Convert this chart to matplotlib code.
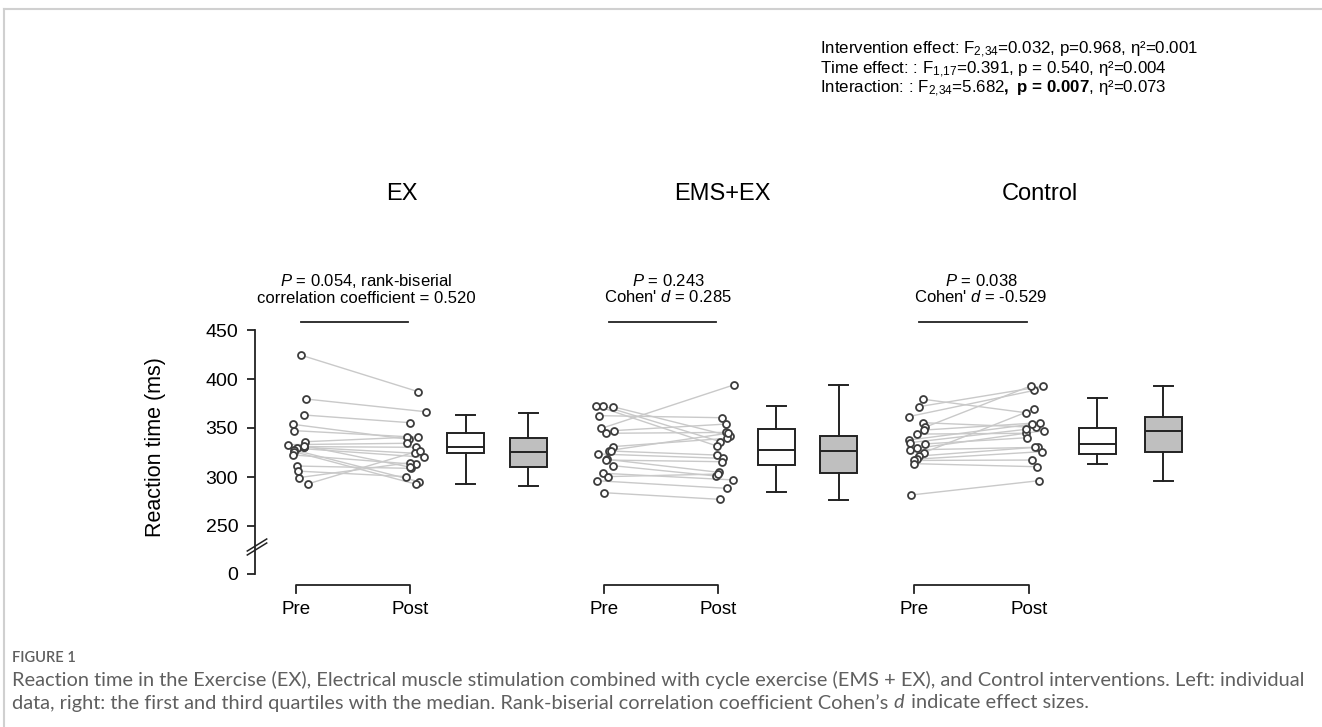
import numpy as np
import matplotlib
matplotlib.use('Agg')
import matplotlib.pyplot as plt
from matplotlib.lines import Line2D

plt.rcParams['font.family'] = ['Liberation Sans', 'DejaVu Sans']
plt.rcParams['mathtext.fontset'] = 'custom'
plt.rcParams['mathtext.rm'] = 'Liberation Sans'
plt.rcParams['mathtext.it'] = 'Liberation Sans:italic'
plt.rcParams['mathtext.bf'] = 'Liberation Sans:bold'

# ---- data (ms) ----
groups = ['EX', 'EMS+EX', 'Control']
times = ['Pre', 'Post']

ex_pre = [424.5, 379.6, 363.3, 353.8, 347.3, 336, 333, 331, 330.3, 329.3,
          327.6, 326, 322.5, 311.2, 306, 299.4, 293, 332]
ex_post = [387, 366.6, 355.4, 338.4, 340.5, 340.5, 334.4, 330.3, 324.2, 320.2,
           295.3, 292.6, 312.9, 308.8, 300.4, 314.6, 327, 310]

ems_pre = [372.4, 372.7, 371.8, 362.6, 349.6, 347.3, 344.6, 331, 327, 326.5,
           323.5, 318, 317.3, 311.5, 303.8, 300.4, 296.2, 284]
ems_post = [336, 331.6, 341.8, 360.5, 393.9, 354, 345.5, 339.5, 344.6, 322.4,
            319, 304.8, 315.6, 301, 297, 303, 288.4, 277.2]

ctrl_pre = [379.3, 371.8, 361.6, 355.4, 350.7, 347.9, 343.8, 337.7, 335, 333.7,
            329.3, 327.6, 324.8, 321.4, 318.3, 316.9, 313.6, 281.6]
ctrl_post = [365.6, 392.5, 388.4, 350.7, 393.2, 355.4, 344.6, 354, 348.6, 340.1,
             347.3, 330.3, 369.1, 330.3, 325.9, 317.3, 310.5, 296.2]

# box stats as drawn: whisker low, q1, median, q3, whisker high
ex_box_pre = [293, 324.2, 330.3, 344.6, 363.3]
ex_box_post = [291.3, 310, 325.9, 339.5, 365.6]
ems_box_pre = [285, 312.3, 327.6, 349, 372.7]
ems_box_post = [276.5, 304.5, 326.5, 341.8, 393.9]
ctrl_box_pre = [313.6, 323.1, 334.1, 349.7, 380.2]
ctrl_box_post = [295.9, 325.5, 346.6, 360.9, 392.9]

stat_labels = [r'$\mathit{P}$ = 0.054, rank-biserial' + '\ncorrelation coefficient = 0.520',
               r'$\mathit{P}$ = 0.243' + '\n' + r"Cohen' $\mathit{d}$ = 0.285",
               r'$\mathit{P}$ = 0.038' + '\n' + r"Cohen' $\mathit{d}$ = -0.529"]

anova_lines = [r'Intervention effect: F$_{\mathregular{2,\!34}}$=0.032, p=0.968, η²=0.001',
               r'Time effect: : F$_{\mathregular{1,\!17}}$=0.391, p = 0.540, η²=0.004',
               r'Interaction: : F$_{\mathregular{2,\!34}}$=5.682$\mathbf{,\ p\,=\,0.007}$, η²=0.073']

yticks_shown = [0, 250, 300, 350, 400, 450]

pre_all = [ex_pre, ems_pre, ctrl_pre]
post_all = [ex_post, ems_post, ctrl_post]
box_all = [(ex_box_pre, ex_box_post), (ems_box_pre, ems_box_post), (ctrl_box_pre, ctrl_box_post)]

# ---- layout ----
W, H = 1322, 727
fig = plt.figure(figsize=(W / 100, H / 100), dpi=100)


def ypx(p):
    # pixel row -> value on the (broken) y scale
    return 450 - (p - 330) / 0.98


zero_pos = ypx(574)  # where "0" sits below the break

ax = fig.add_axes([255 / W, (H - 630) / H, (1200 - 255) / W, 480 / H])
ax.set_xlim(2.55, 12.0)
ax.set_ylim(ypx(630), ypx(150))

pre_x = [2.96, 6.04, 9.14]
post_x = [4.10, 7.18, 10.29]
box_x = [(4.655, 5.28), (7.76, 8.385), (10.97, 11.63)]
title_x = [4.02, 7.22, 10.40]
stat_x = [3.66, 6.68, 9.81]

rng = np.random.default_rng(7)
for g in range(3):
    pre = np.array(pre_all[g])
    post = np.array(post_all[g])
    n = len(pre)
    xa = pre_x[g] + 0.02 + rng.uniform(-0.10, 0.10, n)
    xb = post_x[g] + 0.06 + rng.uniform(-0.10, 0.10, n)
    for i in range(n):
        ax.plot([xa[i], xb[i]], [pre[i], post[i]], color='#c9c9c9', lw=1.0, zorder=1)
    ax.plot(xa, pre, 'o', ms=5, mfc='white', mec='#3c3c3c', mew=1.3, zorder=2)
    ax.plot(xb, post, 'o', ms=5, mfc='white', mec='#3c3c3c', mew=1.3, zorder=2)

    # boxes
    stats = []
    for s in box_all[g]:
        stats.append({'whislo': s[0], 'q1': s[1], 'med': s[2], 'q3': s[3], 'whishi': s[4]})
    bp = ax.bxp(stats, positions=list(box_x[g]), widths=0.37, capwidths=0.19,
                showfliers=False, patch_artist=True,
                boxprops=dict(lw=1.4, edgecolor='#222222'),
                medianprops=dict(lw=1.4, color='#222222'),
                whiskerprops=dict(lw=1.4, color='#222222'),
                capprops=dict(lw=1.4, color='#222222'))
    bp['boxes'][0].set_facecolor('white')
    bp['boxes'][1].set_facecolor('#bfbfbf')

    # Pre / Post bracket
    yb, yt = ypx(585), ypx(593)
    ax.plot([pre_x[g], pre_x[g], post_x[g], post_x[g]], [yt, yb, yb, yt],
            color='#222222', lw=1.3, clip_on=False)
    for xx, lab in zip([pre_x[g], post_x[g]], times):
        ax.text(xx, ypx(609), lab, ha='center', va='center', fontsize=13.5)

    # significance line and stats text
    ax.plot([pre_x[g] + 0.045, post_x[g] - 0.02], [ypx(322), ypx(322)],
            color='#222222', lw=1.3)
    ax.text(stat_x[g], ypx(289), stat_labels[g], ha='center', va='center',
            fontsize=12, linespacing=1.05)

    ax.text(title_x[g], ypx(194), groups[g], ha='center', va='center', fontsize=17)

# y axis with break
for s in ['top', 'right', 'bottom']:
    ax.spines[s].set_visible(False)
ax.spines['left'].set_bounds(zero_pos, 450)
ax.spines['left'].set_linewidth(1.3)
ax.spines['left'].set_color('#222222')
ax.set_xticks([])
ax.set_yticks([zero_pos] + yticks_shown[1:])
ax.set_yticklabels([str(v) for v in yticks_shown])
ax.tick_params(axis='y', length=6, width=1.3, color='#222222', pad=6, labelsize=14)
for dy in [0, 4]:
    ax.plot([2.473, 2.667], [ypx(555 - dy), ypx(543 - dy)], color='#222222', lw=1.1, clip_on=False)
ax.text(1.55, ypx(447), 'Reaction time (ms)', rotation=90, ha='center', va='center',
        fontsize=15.5, clip_on=False)

# ANOVA summary
for i, line in enumerate(anova_lines):
    fig.text(820 / W, 1 - (50 + 19.5 * i) / H, line, ha='left', va='center', fontsize=12.2)

# page frame and caption
fig.add_artist(Line2D([4 / W, 1], [1 - 9 / H, 1 - 9 / H], color='#d0d0d0', lw=1.5))
fig.add_artist(Line2D([4 / W, 4 / W], [0, 1 - 9 / H], color='#d0d0d0', lw=1.5))

cap_font = ['Lato', 'DejaVu Sans']
cap_col = '#5f5f5f'
r = fig.canvas.get_renderer()

fig.text(12 / W, 1 - 658 / H, 'FIGURE 1', family=cap_font, fontsize=10.5,
         color=cap_col, va='center', weight='semibold')
line1 = fig.text(12 / W, 1 - 680 / H,
                 'Reaction time in the Exercise (EX), Electrical muscle stimulation combined with cycle '
                 'exercise (EMS + EX), and Control interventions. Left: individual',
                 family=cap_font, fontsize=12, color=cap_col, va='center')
# scale caption so the first line spans the same width as in the figure
cap_size = 12 * 1286 / line1.get_window_extent(r).width
line1.set_fontsize(cap_size)

parts = ['data, right: the first and third quartiles with the median. Rank-biserial '
         'correlation coefficient Cohen\u2019s ', 'd', ' indicate effect sizes.']
xpos = 12
for k, part in enumerate(parts):
    t = fig.text(xpos / W, 1 - 703 / H, part, family=cap_font, fontsize=cap_size,
                 color=cap_col, va='center', style='italic' if k == 1 else 'normal')
    xpos = t.get_window_extent(r).x1 + (2 if k == 1 else 0)

fig.savefig('out.png', dpi=100)
